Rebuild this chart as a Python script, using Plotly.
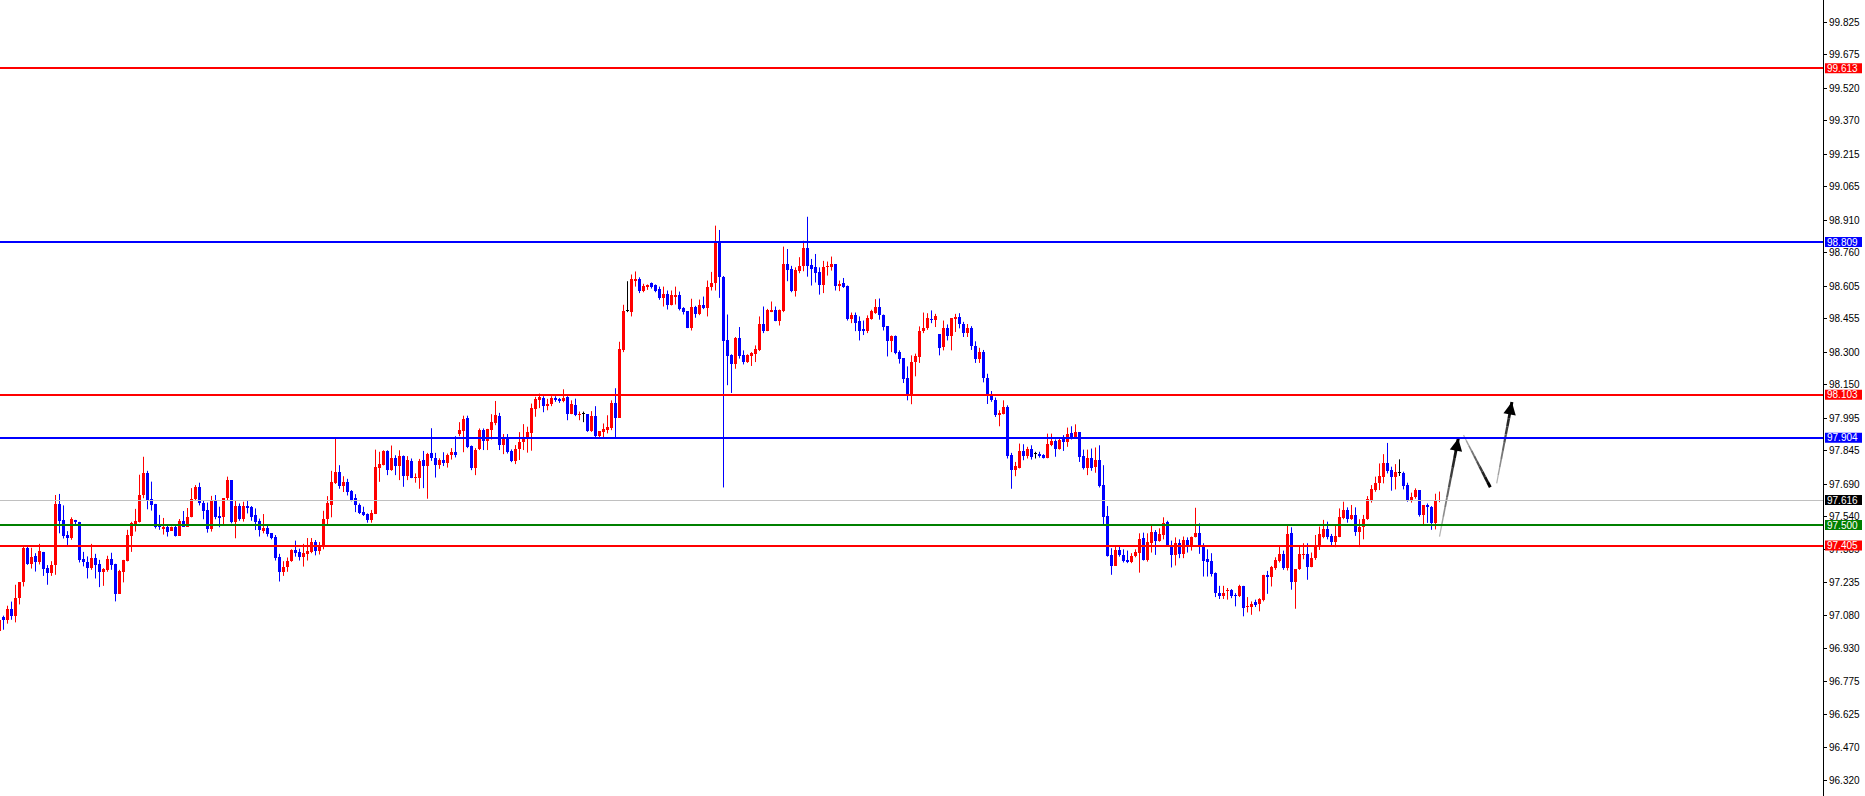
import math
import plotly.graph_objects as go

# ---------------- data (H1 candles) ----------------
opens = [
97.009, 97.075, 97.062, 97.112, 97.078, 97.161, 97.235, 97.395, 97.321, 97.358,
97.330, 97.376, 97.302, 97.278, 97.316, 97.598, 97.524, 97.455, 97.441, 97.524,
97.515, 97.342, 97.330, 97.302, 97.349, 97.321, 97.281, 97.293, 97.342, 97.321,
97.182, 97.281, 97.332, 97.450, 97.505, 97.512, 97.639, 97.742, 97.621, 97.598,
97.496, 97.482, 97.493, 97.473, 97.493, 97.450, 97.519, 97.493, 97.536, 97.621,
97.678, 97.601, 97.570, 97.484, 97.613, 97.542, 97.536, 97.625, 97.708, 97.512,
97.588, 97.530, 97.588, 97.585, 97.545, 97.520, 97.474, 97.487, 97.462, 97.447,
97.351, 97.285, 97.304, 97.333, 97.385, 97.377, 97.354, 97.367, 97.376, 97.422,
97.382, 97.397, 97.527, 97.593, 97.696, 97.745, 97.680, 97.699, 97.659, 97.625,
97.594, 97.560, 97.551, 97.523, 97.551, 97.766, 97.777, 97.843, 97.754, 97.809,
97.774, 97.819, 97.726, 97.796, 97.717, 97.720, 97.800, 97.774, 97.832, 97.808,
97.776, 97.803, 97.785, 97.822, 97.837, 97.923, 97.936, 97.994, 97.865, 97.763,
97.850, 97.939, 97.890, 97.939, 97.970, 98.004, 97.870, 97.904, 97.844, 97.798,
97.852, 97.882, 97.896, 97.927, 98.037, 98.077, 98.088, 98.051, 98.059, 98.088,
98.084, 98.074, 98.091, 98.014, 98.054, 98.011, 98.013, 98.013, 97.936, 98.005,
97.911, 97.931, 97.939, 97.947, 98.064, 97.996, 98.308, 98.488, 98.485, 98.631,
98.640, 98.585, 98.603, 98.622, 98.610, 98.590, 98.550, 98.571, 98.520, 98.557,
98.562, 98.502, 98.488, 98.411, 98.511, 98.477, 98.519, 98.502, 98.600, 98.619,
98.805, 98.649, 98.354, 98.285, 98.247, 98.365, 98.285, 98.254, 98.280, 98.290,
98.308, 98.428, 98.397, 98.485, 98.493, 98.443, 98.488, 98.708, 98.685, 98.582,
98.674, 98.697, 98.783, 98.703, 98.696, 98.669, 98.612, 98.692, 98.696, 98.706,
98.605, 98.622, 98.608, 98.454, 98.474, 98.442, 98.406, 98.400, 98.453, 98.483,
98.511, 98.474, 98.419, 98.351, 98.373, 98.299, 98.271, 98.179, 98.105, 98.253,
98.277, 98.397, 98.410, 98.454, 98.450, 98.382, 98.323, 98.410, 98.373, 98.454,
98.462, 98.428, 98.390, 98.410, 98.330, 98.270, 98.300, 98.180, 98.100, 98.077,
98.008, 98.015, 98.046, 97.823, 97.754, 97.766, 97.843, 97.819, 97.854, 97.828,
97.831, 97.823, 97.812, 97.869, 97.889, 97.854, 97.896, 97.885, 97.926, 97.905,
97.929, 97.819, 97.762, 97.812, 97.770, 97.800, 97.685, 97.542, 97.362, 97.311,
97.385, 97.362, 97.339, 97.330, 97.355, 97.373, 97.440, 97.339, 97.419, 97.468,
97.428, 97.454, 97.514, 97.408, 97.362, 97.416, 97.367, 97.431, 97.408, 97.443,
97.462, 97.404, 97.342, 97.336, 97.278, 97.188, 97.173, 97.193, 97.201, 97.176,
97.170, 97.219, 97.121, 97.121, 97.142, 97.136, 97.152, 97.267, 97.259, 97.301,
97.336, 97.367, 97.301, 97.462, 97.239, 97.296, 97.362, 97.367, 97.308, 97.347,
97.404, 97.444, 97.482, 97.450, 97.424, 97.447, 97.531, 97.570, 97.530, 97.547,
97.470, 97.493, 97.527, 97.616, 97.664, 97.693, 97.724, 97.785, 97.754, 97.724,
97.742, 97.742, 97.685, 97.616, 97.628, 97.662, 97.547, 97.593, 97.582, 97.511,
97.613,
]

highs = [
97.070, 97.081, 97.127, 97.146, 97.224, 97.236, 97.401, 97.401, 97.395, 97.370,
97.413, 97.376, 97.315, 97.333, 97.639, 97.644, 97.591, 97.472, 97.536, 97.524,
97.515, 97.376, 97.355, 97.413, 97.367, 97.339, 97.301, 97.358, 97.372, 97.321,
97.293, 97.339, 97.478, 97.515, 97.575, 97.733, 97.816, 97.751, 97.701, 97.598,
97.547, 97.533, 97.505, 97.493, 97.496, 97.528, 97.565, 97.579, 97.671, 97.685,
97.696, 97.613, 97.604, 97.635, 97.639, 97.585, 97.625, 97.724, 97.708, 97.616,
97.600, 97.608, 97.616, 97.588, 97.577, 97.530, 97.551, 97.505, 97.462, 97.454,
97.367, 97.333, 97.350, 97.388, 97.428, 97.391, 97.413, 97.440, 97.440, 97.431,
97.422, 97.566, 97.634, 97.751, 97.900, 97.777, 97.726, 97.714, 97.662, 97.643,
97.600, 97.585, 97.554, 97.570, 97.849, 97.839, 97.846, 97.846, 97.868, 97.823,
97.846, 97.822, 97.819, 97.808, 97.739, 97.806, 97.843, 97.834, 97.948, 97.834,
97.809, 97.837, 97.831, 97.856, 97.911, 97.976, 98.006, 98.006, 97.868, 97.856,
97.947, 97.947, 97.945, 98.013, 98.074, 98.019, 97.921, 97.921, 97.850, 97.870,
97.930, 97.967, 97.955, 98.062, 98.093, 98.108, 98.096, 98.084, 98.096, 98.096,
98.088, 98.128, 98.096, 98.077, 98.085, 98.025, 98.025, 98.013, 98.027, 98.050,
97.934, 97.970, 98.008, 98.077, 98.133, 98.348, 98.519, 98.628, 98.659, 98.673,
98.646, 98.616, 98.613, 98.622, 98.613, 98.603, 98.603, 98.585, 98.585, 98.603,
98.580, 98.508, 98.488, 98.547, 98.514, 98.543, 98.557, 98.631, 98.671, 98.885,
98.865, 98.652, 98.474, 98.290, 98.370, 98.416, 98.308, 98.290, 98.300, 98.331,
98.465, 98.511, 98.500, 98.534, 98.511, 98.497, 98.788, 98.777, 98.699, 98.692,
98.739, 98.815, 98.926, 98.731, 98.754, 98.692, 98.722, 98.719, 98.742, 98.706,
98.631, 98.643, 98.608, 98.483, 98.483, 98.465, 98.446, 98.470, 98.496, 98.545,
98.548, 98.474, 98.419, 98.377, 98.377, 98.308, 98.271, 98.234, 98.285, 98.293,
98.419, 98.483, 98.480, 98.493, 98.477, 98.382, 98.446, 98.428, 98.456, 98.477,
98.480, 98.440, 98.430, 98.420, 98.350, 98.320, 98.310, 98.200, 98.120, 98.090,
98.031, 98.077, 98.054, 97.834, 97.792, 97.877, 97.874, 97.862, 97.869, 97.839,
97.839, 97.828, 97.923, 97.923, 97.896, 97.905, 97.916, 97.951, 97.957, 97.966,
97.929, 97.849, 97.849, 97.854, 97.859, 97.869, 97.777, 97.588, 97.393, 97.400,
97.400, 97.388, 97.382, 97.370, 97.388, 97.462, 97.465, 97.462, 97.505, 97.477,
97.485, 97.536, 97.520, 97.428, 97.443, 97.434, 97.447, 97.443, 97.447, 97.580,
97.508, 97.416, 97.388, 97.370, 97.281, 97.219, 97.219, 97.209, 97.204, 97.185,
97.224, 97.219, 97.167, 97.147, 97.155, 97.162, 97.270, 97.288, 97.311, 97.351,
97.401, 97.382, 97.496, 97.490, 97.296, 97.404, 97.416, 97.416, 97.373, 97.454,
97.493, 97.524, 97.516, 97.459, 97.496, 97.577, 97.608, 97.582, 97.593, 97.582,
97.527, 97.547, 97.634, 97.685, 97.724, 97.785, 97.828, 97.880, 97.770, 97.782,
97.804, 97.747, 97.696, 97.650, 97.670, 97.662, 97.593, 97.600, 97.588, 97.645,
97.655,
]

lows = [
97.000, 97.016, 97.044, 97.062, 97.050, 97.133, 97.216, 97.316, 97.299, 97.285,
97.318, 97.265, 97.224, 97.265, 97.270, 97.462, 97.438, 97.408, 97.432, 97.505,
97.327, 97.309, 97.253, 97.293, 97.253, 97.213, 97.219, 97.284, 97.293, 97.147,
97.182, 97.235, 97.332, 97.376, 97.470, 97.512, 97.624, 97.573, 97.567, 97.484,
97.478, 97.456, 97.447, 97.473, 97.447, 97.450, 97.493, 97.493, 97.536, 97.616,
97.591, 97.527, 97.465, 97.470, 97.527, 97.490, 97.496, 97.616, 97.508, 97.439,
97.520, 97.516, 97.554, 97.520, 97.477, 97.447, 97.462, 97.447, 97.434, 97.336,
97.239, 97.265, 97.284, 97.330, 97.354, 97.336, 97.308, 97.336, 97.370, 97.360,
97.364, 97.388, 97.505, 97.536, 97.690, 97.668, 97.653, 97.637, 97.610, 97.560,
97.551, 97.542, 97.511, 97.511, 97.551, 97.700, 97.776, 97.731, 97.751, 97.731,
97.708, 97.677, 97.708, 97.717, 97.696, 97.668, 97.671, 97.622, 97.797, 97.720,
97.760, 97.773, 97.766, 97.803, 97.813, 97.911, 97.837, 97.856, 97.754, 97.731,
97.847, 97.847, 97.847, 97.896, 97.962, 97.847, 97.828, 97.831, 97.791, 97.782,
97.801, 97.847, 97.835, 97.844, 98.001, 98.041, 98.022, 98.031, 98.050, 98.070,
98.065, 98.068, 97.985, 98.013, 98.004, 97.985, 97.976, 97.931, 97.931, 97.905,
97.905, 97.905, 97.924, 97.939, 97.902, 97.996, 98.300, 98.485, 98.465, 98.603,
98.573, 98.577, 98.588, 98.594, 98.577, 98.542, 98.511, 98.497, 98.516, 98.520,
98.493, 98.474, 98.411, 98.400, 98.459, 98.471, 98.499, 98.465, 98.585, 98.585,
98.551, 97.674, 98.147, 98.111, 98.223, 98.270, 98.243, 98.250, 98.236, 98.254,
98.305, 98.388, 98.397, 98.485, 98.443, 98.423, 98.485, 98.628, 98.577, 98.557,
98.665, 98.674, 98.649, 98.608, 98.622, 98.566, 98.573, 98.654, 98.677, 98.585,
98.582, 98.597, 98.446, 98.434, 98.397, 98.354, 98.379, 98.388, 98.450, 98.477,
98.450, 98.400, 98.280, 98.300, 98.290, 98.247, 98.157, 98.077, 98.059, 98.188,
98.250, 98.388, 98.403, 98.434, 98.416, 98.285, 98.308, 98.354, 98.308, 98.393,
98.410, 98.370, 98.370, 98.310, 98.250, 98.250, 98.160, 98.060, 98.070, 98.000,
97.957, 98.012, 97.808, 97.668, 97.726, 97.762, 97.800, 97.808, 97.803, 97.808,
97.812, 97.808, 97.809, 97.865, 97.816, 97.849, 97.843, 97.862, 97.896, 97.900,
97.792, 97.757, 97.731, 97.751, 97.742, 97.674, 97.500, 97.354, 97.270, 97.311,
97.354, 97.327, 97.324, 97.324, 97.351, 97.280, 97.336, 97.331, 97.373, 97.362,
97.423, 97.434, 97.404, 97.304, 97.313, 97.347, 97.347, 97.373, 97.382, 97.443,
97.367, 97.262, 97.262, 97.262, 97.167, 97.158, 97.158, 97.155, 97.162, 97.124,
97.167, 97.078, 97.096, 97.085, 97.121, 97.101, 97.147, 97.182, 97.216, 97.293,
97.327, 97.293, 97.290, 97.201, 97.113, 97.293, 97.342, 97.247, 97.305, 97.339,
97.385, 97.439, 97.434, 97.404, 97.398, 97.444, 97.527, 97.511, 97.524, 97.450,
97.398, 97.434, 97.524, 97.604, 97.654, 97.662, 97.693, 97.739, 97.659, 97.665,
97.727, 97.665, 97.608, 97.604, 97.622, 97.539, 97.496, 97.510, 97.478, 97.480,
97.606,
]

closes = [
97.062, 97.062, 97.112, 97.078, 97.164, 97.236, 97.395, 97.321, 97.352, 97.327,
97.379, 97.299, 97.278, 97.315, 97.598, 97.521, 97.450, 97.441, 97.527, 97.512,
97.339, 97.327, 97.302, 97.349, 97.316, 97.281, 97.296, 97.342, 97.316, 97.182,
97.289, 97.339, 97.455, 97.508, 97.519, 97.639, 97.742, 97.616, 97.593, 97.490,
97.490, 97.493, 97.470, 97.493, 97.450, 97.519, 97.493, 97.536, 97.621, 97.678,
97.601, 97.567, 97.484, 97.613, 97.539, 97.533, 97.625, 97.708, 97.512, 97.588,
97.530, 97.588, 97.580, 97.539, 97.514, 97.477, 97.488, 97.459, 97.442, 97.350,
97.285, 97.308, 97.333, 97.385, 97.370, 97.354, 97.371, 97.380, 97.422, 97.382,
97.400, 97.528, 97.600, 97.700, 97.745, 97.680, 97.699, 97.654, 97.616, 97.591,
97.557, 97.545, 97.523, 97.554, 97.770, 97.782, 97.843, 97.754, 97.809, 97.774,
97.819, 97.726, 97.800, 97.717, 97.722, 97.796, 97.774, 97.829, 97.808, 97.777,
97.800, 97.788, 97.822, 97.837, 97.825, 97.939, 97.991, 97.862, 97.763, 97.849,
97.939, 97.890, 97.945, 97.976, 98.008, 97.870, 97.896, 97.839, 97.798, 97.852,
97.882, 97.899, 97.930, 98.041, 98.082, 98.093, 98.051, 98.059, 98.087, 98.077,
98.074, 98.088, 98.014, 98.059, 98.010, 98.014, 98.013, 97.936, 98.005, 97.911,
97.934, 97.945, 97.953, 98.064, 97.996, 98.313, 98.488, 98.488, 98.636, 98.640,
98.585, 98.606, 98.610, 98.603, 98.582, 98.550, 98.571, 98.520, 98.562, 98.566,
98.499, 98.485, 98.411, 98.511, 98.477, 98.519, 98.502, 98.603, 98.622, 98.805,
98.646, 98.351, 98.282, 98.247, 98.365, 98.280, 98.254, 98.285, 98.296, 98.313,
98.428, 98.397, 98.493, 98.496, 98.443, 98.497, 98.708, 98.682, 98.582, 98.682,
98.700, 98.783, 98.697, 98.686, 98.665, 98.612, 98.696, 98.700, 98.706, 98.605,
98.616, 98.603, 98.454, 98.474, 98.434, 98.400, 98.400, 98.456, 98.488, 98.511,
98.470, 98.416, 98.351, 98.373, 98.296, 98.268, 98.176, 98.105, 98.256, 98.280,
98.400, 98.413, 98.456, 98.450, 98.465, 98.320, 98.410, 98.373, 98.456, 98.462,
98.428, 98.390, 98.410, 98.330, 98.270, 98.300, 98.180, 98.100, 98.077, 98.008,
98.019, 98.046, 97.819, 97.754, 97.773, 97.843, 97.819, 97.854, 97.816, 97.828,
97.820, 97.812, 97.874, 97.889, 97.854, 97.892, 97.885, 97.923, 97.908, 97.929,
97.816, 97.762, 97.809, 97.762, 97.803, 97.680, 97.539, 97.357, 97.311, 97.385,
97.362, 97.336, 97.327, 97.357, 97.376, 97.434, 97.339, 97.422, 97.468, 97.428,
97.459, 97.511, 97.408, 97.362, 97.416, 97.367, 97.431, 97.408, 97.447, 97.462,
97.408, 97.336, 97.331, 97.275, 97.185, 97.173, 97.188, 97.201, 97.173, 97.170,
97.219, 97.116, 97.124, 97.136, 97.131, 97.158, 97.267, 97.259, 97.305, 97.339,
97.367, 97.301, 97.459, 97.239, 97.296, 97.367, 97.367, 97.308, 97.347, 97.404,
97.459, 97.482, 97.447, 97.424, 97.450, 97.536, 97.570, 97.530, 97.547, 97.470,
97.493, 97.528, 97.619, 97.667, 97.696, 97.727, 97.785, 97.751, 97.724, 97.747,
97.742, 97.682, 97.616, 97.628, 97.662, 97.547, 97.593, 97.582, 97.511, 97.613,
97.616,
]

# horizontal levels drawn on the chart
level_prices = [99.613, 98.809, 98.103, 97.904, 97.616, 97.500, 97.405]
level_line_colors = ["#FF0000", "#0000FF", "#FF0000", "#0000FF", "#C0C0C0", "#008000", "#FF0000"]
level_tag_colors = ["#FF0000", "#0000FF", "#FF0000", "#0000FF", "#000000", "#008000", "#FF0000"]
level_line_widths = [2, 2, 2, 2, 1, 2, 2]

# price-scale ticks
tick_values = [99.825, 99.675, 99.520, 99.370, 99.215, 99.065, 98.910, 98.760,
               98.605, 98.455, 98.300, 98.150, 97.995, 97.845, 97.690, 97.540,
               97.385, 97.235, 97.080, 96.930, 96.775, 96.625, 96.470, 96.320]

# hand-drawn projection arrows: (bar index, price) start -> end, arrowhead?
drawn_paths = [
    ((360.0, 97.447), (364.7, 97.901), True),
    ((366.0, 97.916), (372.7, 97.675), False),
    ((374.3, 97.693), (378.1, 98.069), True),
]

# ---------------- figure ----------------
W, H = 1865, 796
PLOT_W = 1823
Y_LO, Y_HI = 96.2469, 99.9287
X_LO = 0.125
X_HI = X_LO + PLOT_W / 4.0
PX = (Y_HI - Y_LO) / H          # price per screen pixel


def snap(price, width):
    """Place a horizontal line of the given pixel width on whole pixels (crisp like MT4)."""
    ypx = (Y_HI - price) / PX
    yc = round(ypx) if width % 2 == 0 else math.floor(ypx) + 0.5
    return Y_HI - yc * PX


idx = list(range(len(closes)))
UP, DOWN, DOJI = "#FF0000", "#0000FF", "#000000"
colors = [UP if c > o else (DOWN if c < o else DOJI) for o, c in zip(opens, closes)]
bases = [min(o, c) for o, c in zip(opens, closes)]
heights = [max(abs(c - o), PX) for o, c in zip(opens, closes)]

fig = go.Figure()

fig.add_trace(go.Bar(x=idx, y=heights, base=bases, width=0.75,
                     marker=dict(color=colors, line=dict(width=0)),
                     hoverinfo="skip"))

for col in (UP, DOWN, DOJI):
    wx, wy = [], []
    for i in idx:
        if colors[i] == col:
            wx += [i, i, None]
            wy += [highs[i], lows[i], None]
    fig.add_trace(go.Scatter(x=wx, y=wy, mode="lines",
                             line=dict(color=col, width=1), hoverinfo="skip"))

# gradient-style drawn arrows
N = 10
for (x0, y0), (x1, y1), head in drawn_paths:
    for k in range(N):
        t0, t1 = k / N, (k + 1) / N
        g = int(200 * (1 - (k + 1) / N))
        fig.add_trace(go.Scatter(
            x=[x0 + (x1 - x0) * t0, x0 + (x1 - x0) * t1],
            y=[y0 + (y1 - y0) * t0, y0 + (y1 - y0) * t1],
            mode="lines", hoverinfo="skip",
            line=dict(color=f"rgb({g},{g},{g})", width=1 + 2 * (k + 1) / N)))
    if head:
        fig.add_annotation(x=x1, y=y1, ax=x0 + (x1 - x0) * 0.85, ay=y0 + (y1 - y0) * 0.85,
                           xref="x", yref="y", axref="x", ayref="y", text="",
                           showarrow=True, arrowhead=2, arrowsize=1, arrowwidth=2.5,
                           arrowcolor="#000000", standoff=0)

shapes = []
for p, lc, lw in zip(level_prices, level_line_colors, level_line_widths):
    ys = snap(p, lw)
    shapes.append(dict(type="line", xref="paper", x0=0, x1=1, yref="y", y0=ys, y1=ys,
                       line=dict(color=lc, width=lw), layer="above"))

for p, tc in zip(level_prices, level_tag_colors):
    yc = (p - Y_LO) / (Y_HI - Y_LO)
    hh = 5.0 / H
    shapes.append(dict(type="rect", xref="paper", yref="paper",
                       x0=1825 / PLOT_W, x1=1862 / PLOT_W, y0=yc - hh, y1=yc + hh,
                       fillcolor=tc, line=dict(width=0), layer="above"))
    fig.add_annotation(xref="paper", x=1827 / PLOT_W, xanchor="left",
                       yref="y", y=p, yanchor="middle", text=f"{p:.3f}",
                       showarrow=False, borderpad=0, borderwidth=0,
                       font=dict(family="Liberation Sans", size=10, color="#FFFFFF"))

fig.update_layout(
    width=W, height=H, autosize=False,
    margin=dict(l=0, r=W - PLOT_W, t=0, b=0, pad=0),
    paper_bgcolor="white", plot_bgcolor="white",
    showlegend=False, bargap=0, shapes=shapes,
    xaxis=dict(range=[X_LO, X_HI], visible=False, showgrid=False, zeroline=False),
    yaxis=dict(range=[Y_LO, Y_HI], side="right", showgrid=False, zeroline=False,
               tickmode="array", tickvals=tick_values,
               ticktext=[f"{v:.3f}" for v in tick_values],
               ticks="outside", ticklen=3, tickwidth=1, tickcolor="#000000",
               showline=True, linecolor="#000000", linewidth=1,
               tickfont=dict(family="Liberation Sans", size=10, color="#000000")),
)

fig.write_html("out.html",
               config={"displayModeBar": False, "staticPlot": True},
               post_script="document.body.style.margin='0';document.body.style.overflow='hidden';")
